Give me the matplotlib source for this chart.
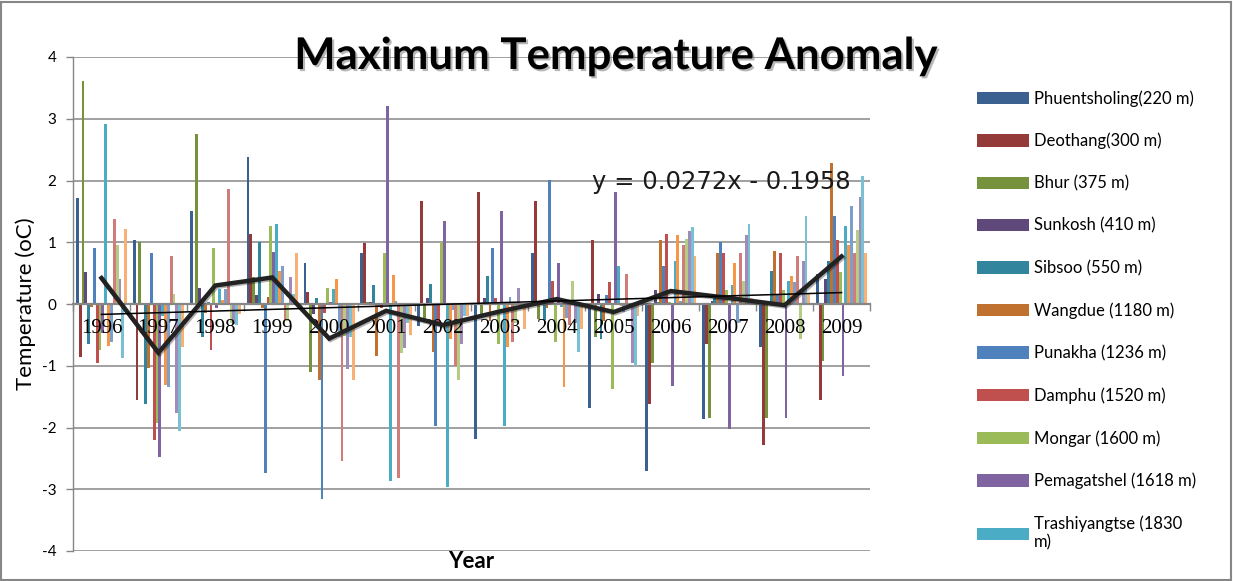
import numpy as np
import matplotlib
matplotlib.use("Agg")
import matplotlib.pyplot as plt
import matplotlib.patheffects as pe
from matplotlib.patches import Rectangle

plt.rcParams['axes.unicode_minus'] = False

# --- data ---
years = ['1996', '1997', '1998', '1999', '2000', '2001', '2002',
         '2003', '2004', '2005', '2006', '2007', '2008', '2009']

phuentsholing = [1.71, 1.04, 1.51, 2.38, 0.67, 0.83, -0.36, -2.19, 0.83, -1.69, -2.71, -1.86, -0.69, 0.48]
deothang = [-0.86, -1.55, 0.02, 1.14, 0.20, 0.98, 1.66, 1.82, 1.66, 1.04, -1.62, -0.64, -2.28, -1.55]
bhur = [3.61, 1.00, 2.76, 0.44, -1.10, 0.03, -0.24, -0.17, -0.24, -0.54, -0.95, -1.84, -1.84, -0.93]
sunkosh = [0.52, 0.02, 0.26, 0.15, -0.17, 0.03, 0.10, 0.10, 0.02, 0.17, 0.23, 0.05, 0.02, 0.41]
sibsoo = [-0.65, -1.62, -0.54, 1.00, 0.09, 0.31, 0.33, 0.46, -0.26, -0.57, 0.03, 0.15, 0.54, 0.70]
wangdue = [-0.05, -1.03, -0.15, -0.06, -1.23, -0.84, -0.77, -0.28, -0.07, -0.28, 1.04, 0.83, 0.86, 2.28]
punakha = [0.91, 0.83, 0.03, -2.73, -3.15, -0.03, -1.97, 0.91, 2.01, 0.15, 0.62, 1.00, 0.17, 1.43]
damphu = [-0.95, -2.21, -0.74, 0.12, -0.15, -0.07, -0.30, 0.09, 0.38, 0.35, 1.14, 0.83, 0.83, 1.04]
mongar = [-0.74, -1.92, 0.90, 1.27, 0.26, 0.83, 1.00, -0.64, -0.62, -1.37, 0.04, 0.23, 0.23, 0.52]
pemagatshel = [-0.47, -2.48, -0.07, 0.85, 0.03, 3.20, 1.35, 1.50, 0.67, 1.82, -1.32, -2.03, -1.84, -1.17]
trashiyangtse = [2.92, -0.20, 0.25, 1.29, 0.24, -2.86, -2.96, -1.97, -0.05, 0.62, 0.69, 0.30, 0.38, 1.27]
# series 12-18 are plotted but their legend entries are cut off in the original
station_12 = [-0.68, -1.31, 0.06, 0.54, 0.41, 0.47, -0.57, -0.70, -1.35, -0.04, 1.12, 0.67, 0.46, 0.96]
station_13 = [-0.62, -1.35, 0.25, 0.62, -0.54, 0.05, -0.09, 0.12, -0.22, -0.13, 0.05, -0.30, 0.35, 1.58]
station_14 = [1.37, 0.78, 1.87, -0.26, -2.54, -2.81, -1.00, -0.62, -0.34, 0.49, 0.96, 0.83, 0.78, 0.83]
station_15 = [0.96, 0.17, -0.30, -0.27, -0.52, -0.80, -1.23, -0.30, 0.38, -0.05, 1.06, 0.38, -0.57, 1.20]
station_16 = [0.41, -1.76, -0.32, 0.44, -1.06, -0.72, -0.64, 0.26, -0.30, -0.95, 1.19, 1.12, 0.69, 1.74]
station_17 = [-0.88, -2.05, -0.34, 0.17, -0.54, -0.30, -0.20, -0.04, -0.78, -1.00, 1.24, 1.29, 1.43, 2.08]
station_18 = [1.22, -0.69, -0.16, 0.82, -1.23, -0.51, -0.20, -0.41, -0.41, -0.20, 0.77, 0.10, 0.18, 0.83]

mean_anomaly = [0.42, -0.79, 0.30, 0.43, -0.56, -0.11, -0.34, -0.12, 0.08, -0.13, 0.21, 0.10, -0.02, 0.77]
trend_slope = 0.0272
trend_icept = -0.1958

legend_names = ['Phuentsholing(220 m)', 'Deothang(300 m)', 'Bhur (375 m)', 'Sunkosh (410 m)',
                'Sibsoo (550 m)', 'Wangdue (1180 m)', 'Punakha (1236 m)', 'Damphu (1520 m)',
                'Mongar (1600 m)', 'Pemagatshel (1618 m)', 'Trashiyangtse (1830\nm)']

series = [phuentsholing, deothang, bhur, sunkosh, sibsoo, wangdue, punakha, damphu,
          mongar, pemagatshel, trashiyangtse, station_12, station_13, station_14,
          station_15, station_16, station_17, station_18]

colors = ['#3B6190', '#943A38', '#76923C', '#5F497A', '#31859C', '#C0712F',
          '#4F81BD', '#C0504D', '#9BBB59', '#8064A2', '#4BACC6', '#F79646',
          '#7BA0CD', '#D07C79', '#B4CC83', '#A08BB9', '#78C1D4', '#F9B074']

# --- figure ---
W, H = 1233, 581
fig = plt.figure(figsize=(W / 100, H / 100), dpi=100)
ax = fig.add_axes([73 / W, (H - 551) / H, (870 - 73) / W, (551 - 57) / H])

x = np.arange(len(years))
bw = 0.05
bars = []
for i, (vals, c) in enumerate(zip(series, colors)):
    b = ax.bar(x - 0.425 + bw * i, vals, width=bw, color=c, linewidth=0, zorder=2)
    bars.append(b)

# mean line and linear trend
ax.plot(x, mean_anomaly, color='#222222', lw=3.2, zorder=5, solid_joinstyle='miter',
        path_effects=[pe.SimpleLineShadow(offset=(1, -1), alpha=0.3), pe.Normal()])
trend = trend_slope * (x + 1) + trend_icept
ax.plot(x, trend, color='black', lw=1.1, zorder=5)

ax.text(8.62, 1.97, 'y = 0.0272x - 0.1958', fontsize=17.5, family='DejaVu Sans',
        ha='left', va='center', color='#1a1a1a', zorder=6)

ax.set_xlim(-0.5, len(years) - 0.5)
ax.set_ylim(-4, 4)
ax.set_yticks(range(-4, 5))
ax.yaxis.grid(True, color='#868686', lw=1.1, zorder=0)
ax.set_axisbelow(True)

for s in ['top', 'right']:
    ax.spines[s].set_visible(False)
ax.spines['left'].set_color('#868686')
ax.spines['left'].set_linewidth(1.0)
ax.spines['bottom'].set_position(('data', 0))
ax.spines['bottom'].set_color('#868686')
ax.spines['bottom'].set_linewidth(1.6)
ax.spines['bottom'].set_zorder(3)

# year labels sit next to the zero axis, on top of the bars
ax.set_xticks(x)
ax.set_xticklabels([])
for xi, yr in zip(x, years):
    ax.text(xi, -0.39, yr, family='Liberation Serif', fontsize=15,
            ha='center', va='center', zorder=4)
ax.set_xticks(np.arange(-0.5, len(years), 1), minor=True)
ax.tick_params(axis='x', which='major', length=0)
ax.tick_params(axis='x', which='minor', length=5, color='#868686', width=1)
ax.tick_params(axis='y', length=5, color='#868686', width=1, labelsize=11, pad=7)
for lab in ax.get_yticklabels():
    lab.set_family('Lato')

ax.set_ylabel('Temperature (oC)', fontsize=16, family='Lato')
ax.yaxis.set_label_coords(-0.0464, 0.5)
fig.text((73 + 870) / 2 / W, 1 - 562 / H, 'Year', fontsize=16, family='Lato',
         weight='bold', ha='center', va='center')

fig.text(616 / W, 1 - 56 / H, 'Maximum Temperature Anomaly', fontsize=31.5, family='Lato',
         weight='bold', ha='center', va='center',
         path_effects=[pe.withSimplePatchShadow(offset=(1.5, -1.5), shadow_rgbFace='#888888', alpha=0.6)])

leg = fig.legend([b[0] for b in bars[:11]], legend_names, loc='upper left',
                 bbox_to_anchor=(962 / W, 1 - 75 / H), frameon=False,
                 prop={'family': 'Lato', 'size': 12},
                 handlelength=3.1, handleheight=0.76, handletextpad=0.3,
                 labelspacing=1.57)

fig.add_artist(Rectangle((0.001, 0.002), 0.997, 0.995, transform=fig.transFigure,
                         fill=False, edgecolor='#868686', lw=1.5))

fig.savefig('out.png', dpi=100)
